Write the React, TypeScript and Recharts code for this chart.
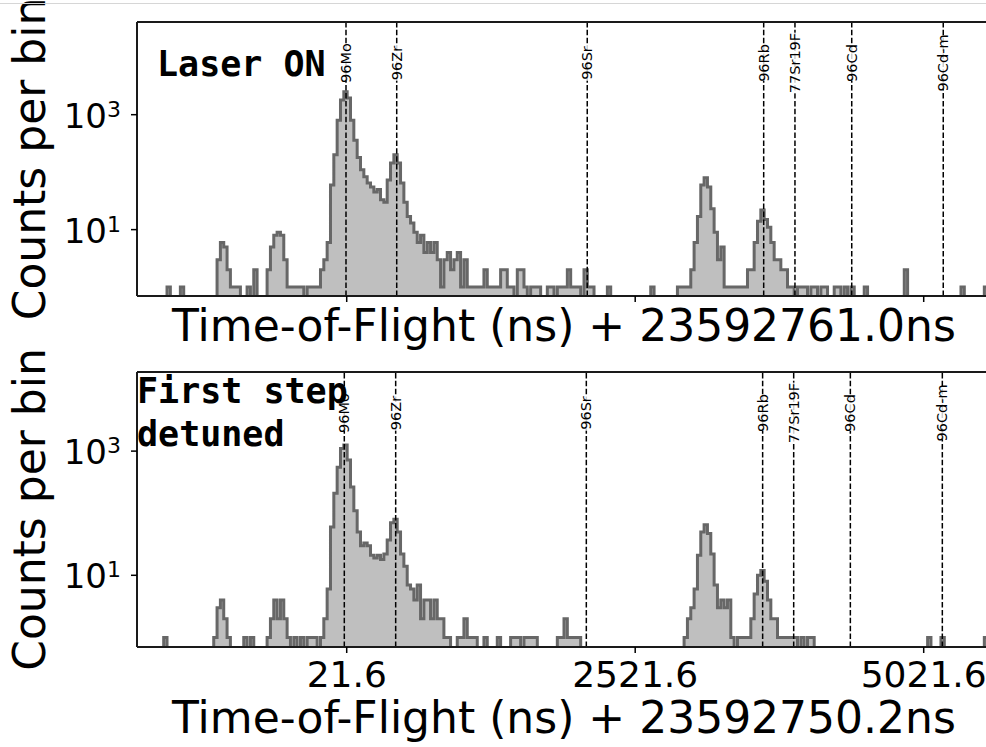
import { ComposedChart, Area, XAxis, YAxis, ReferenceLine, Label } from "recharts";

// x range of both panels (ns) and histogram binning
const X_MIN = -1795.6;
const X_MAX = 5604.8;
const N_BINS = 256;
const Y_MIN = 0.7;
const ZERO_LEVEL = 0.3; // empty bins are drawn below the axis and clipped

const xTicks = [21.6, 2521.6, 5021.6];
const yTicks = [10, 1000];

const isotopes = ["96Mo", "96Zr", "96Sr", "96Rb", "77Sr19F", "96Cd", "96Cd-m"];
const laserOnLines = [15.5, 455, 2106, 3635, 3906, 4398, 5191];
const detunedLines = [0.8, 446, 2098, 3626, 3895, 4386, 5183];

// counts per bin, written as runs: [first bin, counts...]
const laserOnRuns: [number, number[]][] = [
  [9, [1]],
  [13, [1]],
  [24, [3, 6, 5, 2, 1, 1, 1]],
  [33, [1, 0, 2]],
  [39, [2, 5, 8, 9, 8, 3, 1, 1, 1, 1, 1]],
  [51, [1, 1, 1, 1, 2, 3, 6, 60, 200, 800, 1800, 2500, 1950, 800, 360, 180, 110, 83, 65, 55,
    45, 50, 33, 30, 73, 145, 200, 145, 65, 30, 17, 13, 9, 6, 8, 4, 6, 4, 6, 3,
    1, 3, 4, 2, 3, 4, 1, 3, 1, 1, 1, 1, 1, 2, 1, 1, 1, 1, 2, 2, 1, 1, 0, 2, 2, 1]],
  [118, [1, 1, 1]],
  [123, [1, 1]],
  [126, [1, 1, 1, 2, 1, 1, 1]],
  [134, [2, 1, 1]],
  [141, [1]],
  [154, [1]],
  [162, [1, 1, 1, 1, 2, 6, 17, 60, 80, 55, 23, 9, 3, 5, 1, 1, 1, 1, 1, 1, 1,
    2, 2, 6, 14, 22, 15, 11, 6, 3, 3, 2, 2, 1, 1]],
  [198, [1, 1, 1, 0, 1, 1, 0, 1, 1]],
  [209, [1, 1, 0, 1]],
  [214, [1]],
  [218, [1]],
  [230, [2]],
  [247, [1]],
  [254, [1]],
];

const detunedRuns: [number, number[]][] = [
  [8, [1]],
  [23, [1, 3, 4, 2, 1]],
  [32, [1, 0, 1]],
  [39, [1, 2, 4, 2, 4, 2, 1, 0, 1, 0, 1, 0, 1, 1, 1, 0, 1,
    2, 6, 60, 210, 550, 1100, 1250, 720, 265, 110,
    50, 30, 33, 30, 21, 19, 21, 18, 22, 37,
    70, 80, 50, 22, 14, 7, 6, 4, 7, 2,
    4, 4, 2, 4, 2, 2, 1, 1]],
  [96, [1, 1, 2, 1, 1, 1]],
  [104, [1]],
  [108, [1]],
  [112, [1, 1, 1, 0, 1, 1, 1, 1]],
  [126, [1, 1, 2, 1, 1, 1, 1]],
  [164, [1, 2, 3, 6, 21, 50, 65, 47, 22, 7, 3, 4, 3, 4, 1]],
  [180, [1, 1, 1, 1, 2, 5, 10, 12, 8, 4, 2, 2, 1, 1, 1, 1, 1]],
  [197, [1, 0, 1, 0, 1, 1]],
  [237, [1]],
  [241, [1]],
  [254, [1]],
];

const FONT = "'DejaVu Sans', sans-serif";
const MONO = "'DejaVu Sans Mono', monospace";

function toRows(runs: [number, number[]][]) {
  const counts = new Array(N_BINS).fill(0);
  runs.forEach(([start, vals]) => vals.forEach((v, k) => (counts[start + k] = v)));
  const bw = (X_MAX - X_MIN) / N_BINS;
  const rows = counts.map((c, i) => ({ x: X_MIN + i * bw, count: c > 0 ? c : ZERO_LEVEL }));
  rows.push({ x: X_MAX, count: rows[rows.length - 1].count });
  return rows;
}

function IsoLabel(props: any) {
  const { viewBox, name, cy } = props;
  if (!viewBox) return null;
  const cx = viewBox.x;
  const len = name.length * 8.4 + 2;
  return (
    <g>
      <rect x={cx - 7} y={cy - len / 2} width={14} height={len} fill="#fff" fillOpacity={0.8} />
      <text
        x={cx}
        y={cy}
        transform={`rotate(-90, ${cx}, ${cy})`}
        textAnchor="middle"
        dominantBaseline="central"
        fontSize={14.5}
        fontFamily={FONT}
        fill="#000"
      >
        {name}
      </text>
    </g>
  );
}

type PanelProps = {
  rows: { x: number; count: number }[];
  lines: number[];
  yMax: number;
  plotTop: number;
  plotBottom: number;
  xLabel: string;
  showTickLabels: boolean;
};

function Panel({ rows, lines, yMax, plotTop, plotBottom, xLabel, showTickLabels }: PanelProps) {
  const midY = (plotTop + plotBottom) / 2;
  const xLabelY = showTickLabels ? plotBottom + 86 : plotBottom + 45;
  const spine = { stroke: "#1a1a1a", strokeWidth: 2 };

  const xTick = (p: any) =>
    showTickLabels ? (
      <text x={p.x} y={plotBottom + 40} textAnchor="middle" fontSize={36} fontFamily={FONT} fill="#000">
        {String(p.payload.value)}
      </text>
    ) : (
      <g />
    );

  const yTick = (p: any) => {
    const exp = Math.round(Math.log10(p.payload.value));
    return (
      <text x={121} y={p.y + 13} textAnchor="end" fontFamily={FONT} fill="#000">
        <tspan fontSize={34}>10</tspan>
        <tspan fontSize={22} dy={-11}>{exp}</tspan>
      </text>
    );
  };

  return (
    <div style={{ position: "absolute", left: 0, top: 0 }}>
      <ComposedChart
        width={1000}
        height={747}
        data={rows}
        margin={{ top: plotTop - 1, right: 9, bottom: 747 - plotBottom - 1, left: 0 }}
      >
        <Area
          type="stepAfter"
          dataKey="count"
          stroke="#676767"
          strokeWidth={3}
          fill="#bfbfbf"
          fillOpacity={1}
          dot={false}
          activeDot={false}
          isAnimationActive={false}
        />
        {lines.map((v, i) => (
          <ReferenceLine
            key={isotopes[i]}
            x={v}
            stroke="#000"
            strokeWidth={1.5}
            strokeDasharray="5.5 2.4"
            label={<IsoLabel name={isotopes[i]} cy={plotTop + 41} />}
          />
        ))}
        <XAxis
          type="number"
          dataKey="x"
          domain={[X_MIN, X_MAX]}
          allowDataOverflow
          ticks={xTicks}
          interval={0}
          height={1}
          tickSize={6}
          axisLine={spine}
          tickLine={{ stroke: "#000", strokeWidth: 1.5 }}
          tick={xTick}
        >
          <Label
            content={() => (
              <text x={564} y={xLabelY} textAnchor="middle" fontSize={44} fontFamily={FONT} fill="#000">
                {xLabel}
              </text>
            )}
          />
        </XAxis>
        <XAxis
          xAxisId="top"
          orientation="top"
          type="number"
          dataKey="x"
          domain={[X_MIN, X_MAX]}
          allowDataOverflow
          height={1}
          tick={false}
          tickLine={false}
          axisLine={spine}
        />
        <YAxis
          type="number"
          scale="log"
          domain={[Y_MIN, yMax]}
          allowDataOverflow
          ticks={yTicks}
          interval={0}
          width={137}
          tickSize={6}
          axisLine={spine}
          tickLine={{ stroke: "#000", strokeWidth: 1.5 }}
          tick={yTick}
        >
          <Label
            content={() => (
              <text
                x={45}
                y={midY}
                transform={`rotate(-90, 45, ${midY})`}
                textAnchor="middle"
                fontSize={44}
                fontFamily={FONT}
                fill="#000"
              >
                Counts per bin
              </text>
            )}
          />
        </YAxis>
      </ComposedChart>
    </div>
  );
}

export default function App() {
  return (
    <div
      style={{
        position: "absolute",
        left: 0,
        top: 0,
        width: 986,
        height: 747,
        overflow: "hidden",
        background: "#fff",
      }}
    >
      <Panel
        rows={toRows(laserOnRuns)}
        lines={laserOnLines}
        yMax={41000}
        plotTop={22}
        plotBottom={296}
        xLabel="Time-of-Flight (ns) + 23592761.0ns"
        showTickLabels={false}
      />
      <Panel
        rows={toRows(detunedRuns)}
        lines={detunedLines}
        yMax={18800}
        plotTop={372}
        plotBottom={647}
        xLabel="Time-of-Flight (ns) + 23592750.2ns"
        showTickLabels={true}
      />
      {/* panel annotations */}
      <svg width={986} height={747} style={{ position: "absolute", left: 0, top: 0, pointerEvents: "none" }}>
        <line x1={0} y1={3.5} x2={986} y2={3.5} stroke="#d6d6d6" strokeWidth={1} />
        <text x={157} y={76} fontSize={35} fontWeight="bold" fontFamily={MONO} fill="#000">
          Laser ON
        </text>
        <text x={137} y={403} fontSize={35} fontWeight="bold" fontFamily={MONO} fill="#000">
          First step
        </text>
        <text x={137} y={446} fontSize={35} fontWeight="bold" fontFamily={MONO} fill="#000">
          detuned
        </text>
      </svg>
    </div>
  );
}
